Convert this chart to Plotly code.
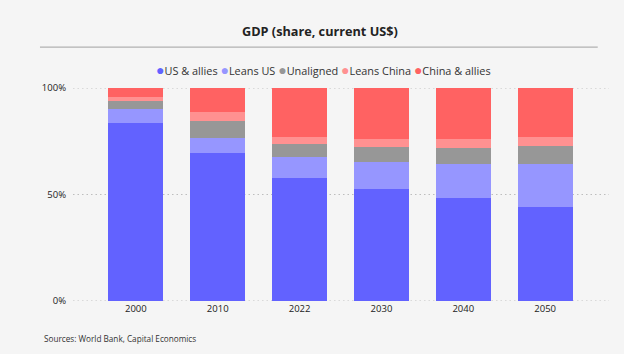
import plotly.graph_objects as go

years = ["2000", "2010", "2022", "2030", "2040", "2050"]
us_allies = [83.7, 69.6, 57.6, 52.7, 48.2, 44.3]
leans_us = [6.6, 7.1, 10.0, 12.7, 16.1, 19.9]
unaligned = [3.5, 7.8, 6.3, 6.9, 7.5, 8.7]
leans_china = [2.0, 4.2, 3.2, 3.6, 4.1, 3.9]
china_allies = [4.2, 11.3, 22.9, 24.1, 24.1, 23.2]
y_ticks = [0, 0.5, 1]
y_tick_labels = ["0%", "50%", "100%"]

series = [
    ("US & allies", us_allies, "#6262FF"),
    ("Leans US", leans_us, "#9696FF"),
    ("Unaligned", unaligned, "#979797"),
    ("Leans China", leans_china, "#FF9191"),
    ("China & allies", china_allies, "#FF6262"),
]

fig = go.Figure()
for name, vals, col in series:
    fig.add_trace(go.Bar(x=years, y=[v / 100 for v in vals], name=name,
                         marker=dict(color=col, line=dict(width=0)),
                         width=0.67, showlegend=False))

legend_text = " ".join(
    f"<span style='color:{col};font-size:14px'>●</span>{name}" for name, _, col in series)

shapes = [dict(type="line", xref="paper", yref="paper", x0=-0.0616, x1=0.979,
               y0=1.192, y1=1.192, line=dict(color="#A0A0A0", width=1))]
for t in y_ticks:
    shapes.append(dict(type="line", xref="paper", yref="y", x0=0, x1=1, y0=t, y1=t,
                       layer="below", line=dict(color="#BDBDBD", width=1.2, dash="1.5px,3px")))

fig.update_layout(
    barmode="stack",
    width=624, height=354,
    margin=dict(l=73, r=15, t=88, b=53),
    paper_bgcolor="#F5F5F5", plot_bgcolor="#F5F5F5",
    font=dict(family="Open Sans, Noto Sans, sans-serif", color="#333333"),
    showlegend=False,
    xaxis=dict(type="category", range=[-0.768, 5.78], showgrid=False, showline=False,
               ticks="", tickfont=dict(size=9.5, color="#222222")),
    yaxis=dict(range=[0, 1], tickvals=y_ticks, ticktext=y_tick_labels,
               showgrid=False, zeroline=False, showline=False, ticks="",
               ticklabelstandoff=6, tickfont=dict(size=9.5, color="#222222")),
    shapes=shapes,
    annotations=[
        dict(text="<b>GDP (share, current US$)</b>", xref="paper", yref="paper",
             x=0.461, y=1.268, xanchor="center", yanchor="middle", showarrow=False,
             font=dict(size=12.7, color="#222222")),
        dict(text=legend_text, xref="paper", yref="paper",
             x=0.468, y=1.088, xanchor="center", yanchor="middle", showarrow=False,
             font=dict(size=10.9, color="#333333")),
        dict(text="Sources: World Bank, Capital Economics", xref="paper", yref="paper",
             x=-0.058, y=-0.174, xanchor="left", yanchor="middle", showarrow=False,
             font=dict(size=8.2, color="#333333")),
    ],
)

fig.write_html("out.html")
